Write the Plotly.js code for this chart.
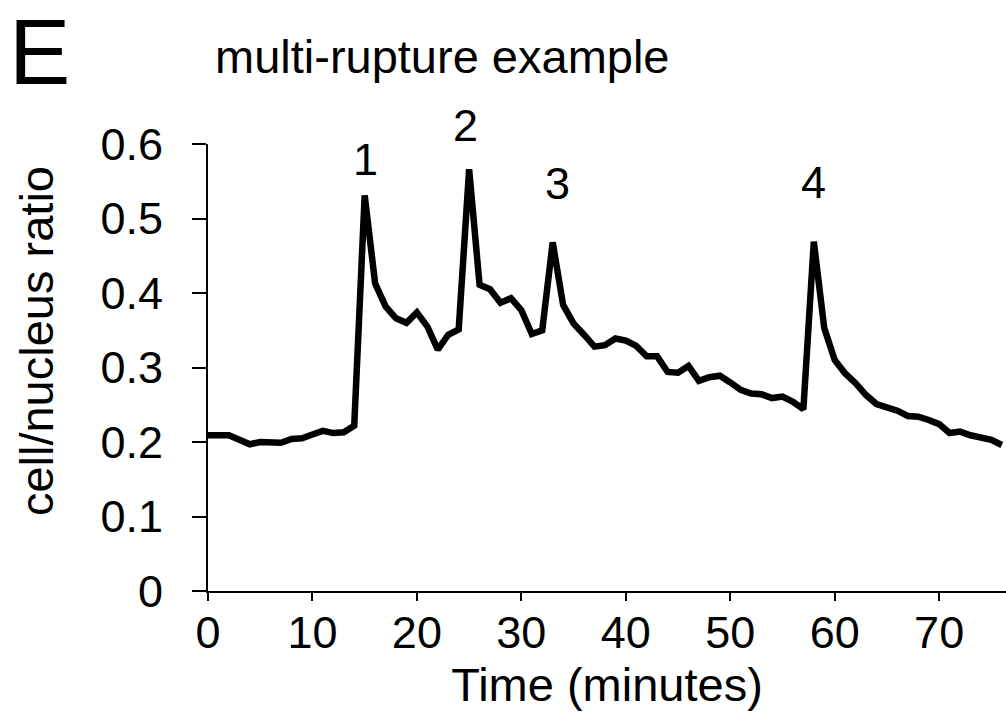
<!DOCTYPE html>
<html>
<head>
<meta charset="utf-8">
<script src="https://cdn.plot.ly/plotly-3.0.1.min.js"></script>
<style>
html,body{margin:0;padding:0;background:#fff;}
#chart{width:1006px;height:714px;}
</style>
</head>
<body>
<div id="chart"></div>
<script>
// Time points (minutes)
const timeMin = [];
for (let t = 0; t <= 76; t++) timeMin.push(t);

// cell/nucleus ratio
const ratio = [
  0.209, 0.209, 0.209, 0.203, 0.197, 0.200, 0.200, 0.199, 0.204, 0.205,
  0.210, 0.215, 0.212, 0.213, 0.222, 0.531, 0.413, 0.382, 0.366, 0.360,
  0.374, 0.355, 0.324, 0.344, 0.351, 0.566, 0.411, 0.405, 0.387, 0.393,
  0.377, 0.345, 0.350, 0.468, 0.384, 0.359, 0.344, 0.328, 0.330, 0.339,
  0.336, 0.329, 0.315, 0.315, 0.294, 0.293, 0.302, 0.282, 0.287, 0.289,
  0.280, 0.270, 0.265, 0.264, 0.259, 0.261, 0.254, 0.244, 0.469, 0.353,
  0.310, 0.292, 0.279, 0.263, 0.251, 0.247, 0.242, 0.235, 0.234, 0.2295,
  0.224, 0.212, 0.214, 0.209, 0.205, 0.203, 0.196
];

// Rupture labels (value-axis heights of the label centres)
const peakLabels = ['1', '2', '3', '4'];
const peakLabelX = [15.1, 24.7, 33.5, 58.0];
const peakLabelY = [0.579, 0.625, 0.547, 0.548];

const yTicks = [0, 0.1, 0.2, 0.3, 0.4, 0.5, 0.6];
const yTickText = ['0', '0.1', '0.2', '0.3', '0.4', '0.5', '0.6'];
const xTicks = [0, 10, 20, 30, 40, 50, 60, 70];

const Y_MAX = 0.6;
const FONT = 'Liberation Sans, Arial, Helvetica, sans-serif';

const annotations = peakLabels.map((lab, i) => ({
  x: peakLabelX[i], y: peakLabelY[i] / Y_MAX, xref: 'x', yref: 'paper',
  text: lab, showarrow: false, xanchor: 'center', yanchor: 'middle',
  font: {family: FONT, size: 45, color: '#000'}
}));

// panel letter
annotations.push({
  x: -0.252, y: 1.205, xref: 'paper', yref: 'paper', text: 'E',
  showarrow: false, xanchor: 'left', yanchor: 'middle',
  font: {family: FONT, size: 92, color: '#000'}
});
// title
annotations.push({
  x: 0.006, y: 1.195, xref: 'paper', yref: 'paper', text: 'multi-rupture example',
  showarrow: false, xanchor: 'left', yanchor: 'middle',
  font: {family: FONT, size: 47, color: '#000'}
});
// y title
annotations.push({
  x: -0.215, y: 0.56, xref: 'paper', yref: 'paper', text: 'cell/nucleus ratio',
  showarrow: false, xanchor: 'center', yanchor: 'middle', textangle: -90,
  font: {family: FONT, size: 47, color: '#000'}
});

const trace = {
  x: timeMin, y: ratio, type: 'scatter', mode: 'lines',
  line: {color: '#000', width: 6.5},
  hoverinfo: 'skip', cliponaxis: false
};

const layout = {
  width: 1006, height: 714,
  margin: {l: 208, r: 0, t: 144, b: 123},
  paper_bgcolor: '#fff', plot_bgcolor: '#fff',
  showlegend: false,
  font: {family: FONT, color: '#000'},
  xaxis: {
    range: [0, 76.4], tickvals: xTicks, ticktext: xTicks.map(String),
    showgrid: false, zeroline: false, showline: true, linecolor: '#000', linewidth: 2,
    ticks: 'outside', ticklen: 8, tickwidth: 2, tickcolor: '#000',
    tickfont: {family: FONT, size: 45, color: '#000'},
    ticklabelstandoff: -7,
    title: {text: 'Time (minutes)', font: {family: FONT, size: 47, color: '#000'}, standoff: 4},
    automargin: false, fixedrange: true
  },
  yaxis: {
    range: [0, Y_MAX], tickvals: yTicks, ticktext: yTickText,
    showgrid: false, zeroline: false, showline: true, linecolor: '#000', linewidth: 2,
    ticks: 'outside', ticklen: 14, tickwidth: 2, tickcolor: '#000',
    tickfont: {family: FONT, size: 45, color: '#000'},
    ticklabelstandoff: 20,
    automargin: false, fixedrange: true
  },
  annotations: annotations
};

Plotly.newPlot('chart', [trace], layout, {displayModeBar: false, staticPlot: true});
</script>
</body>
</html>
